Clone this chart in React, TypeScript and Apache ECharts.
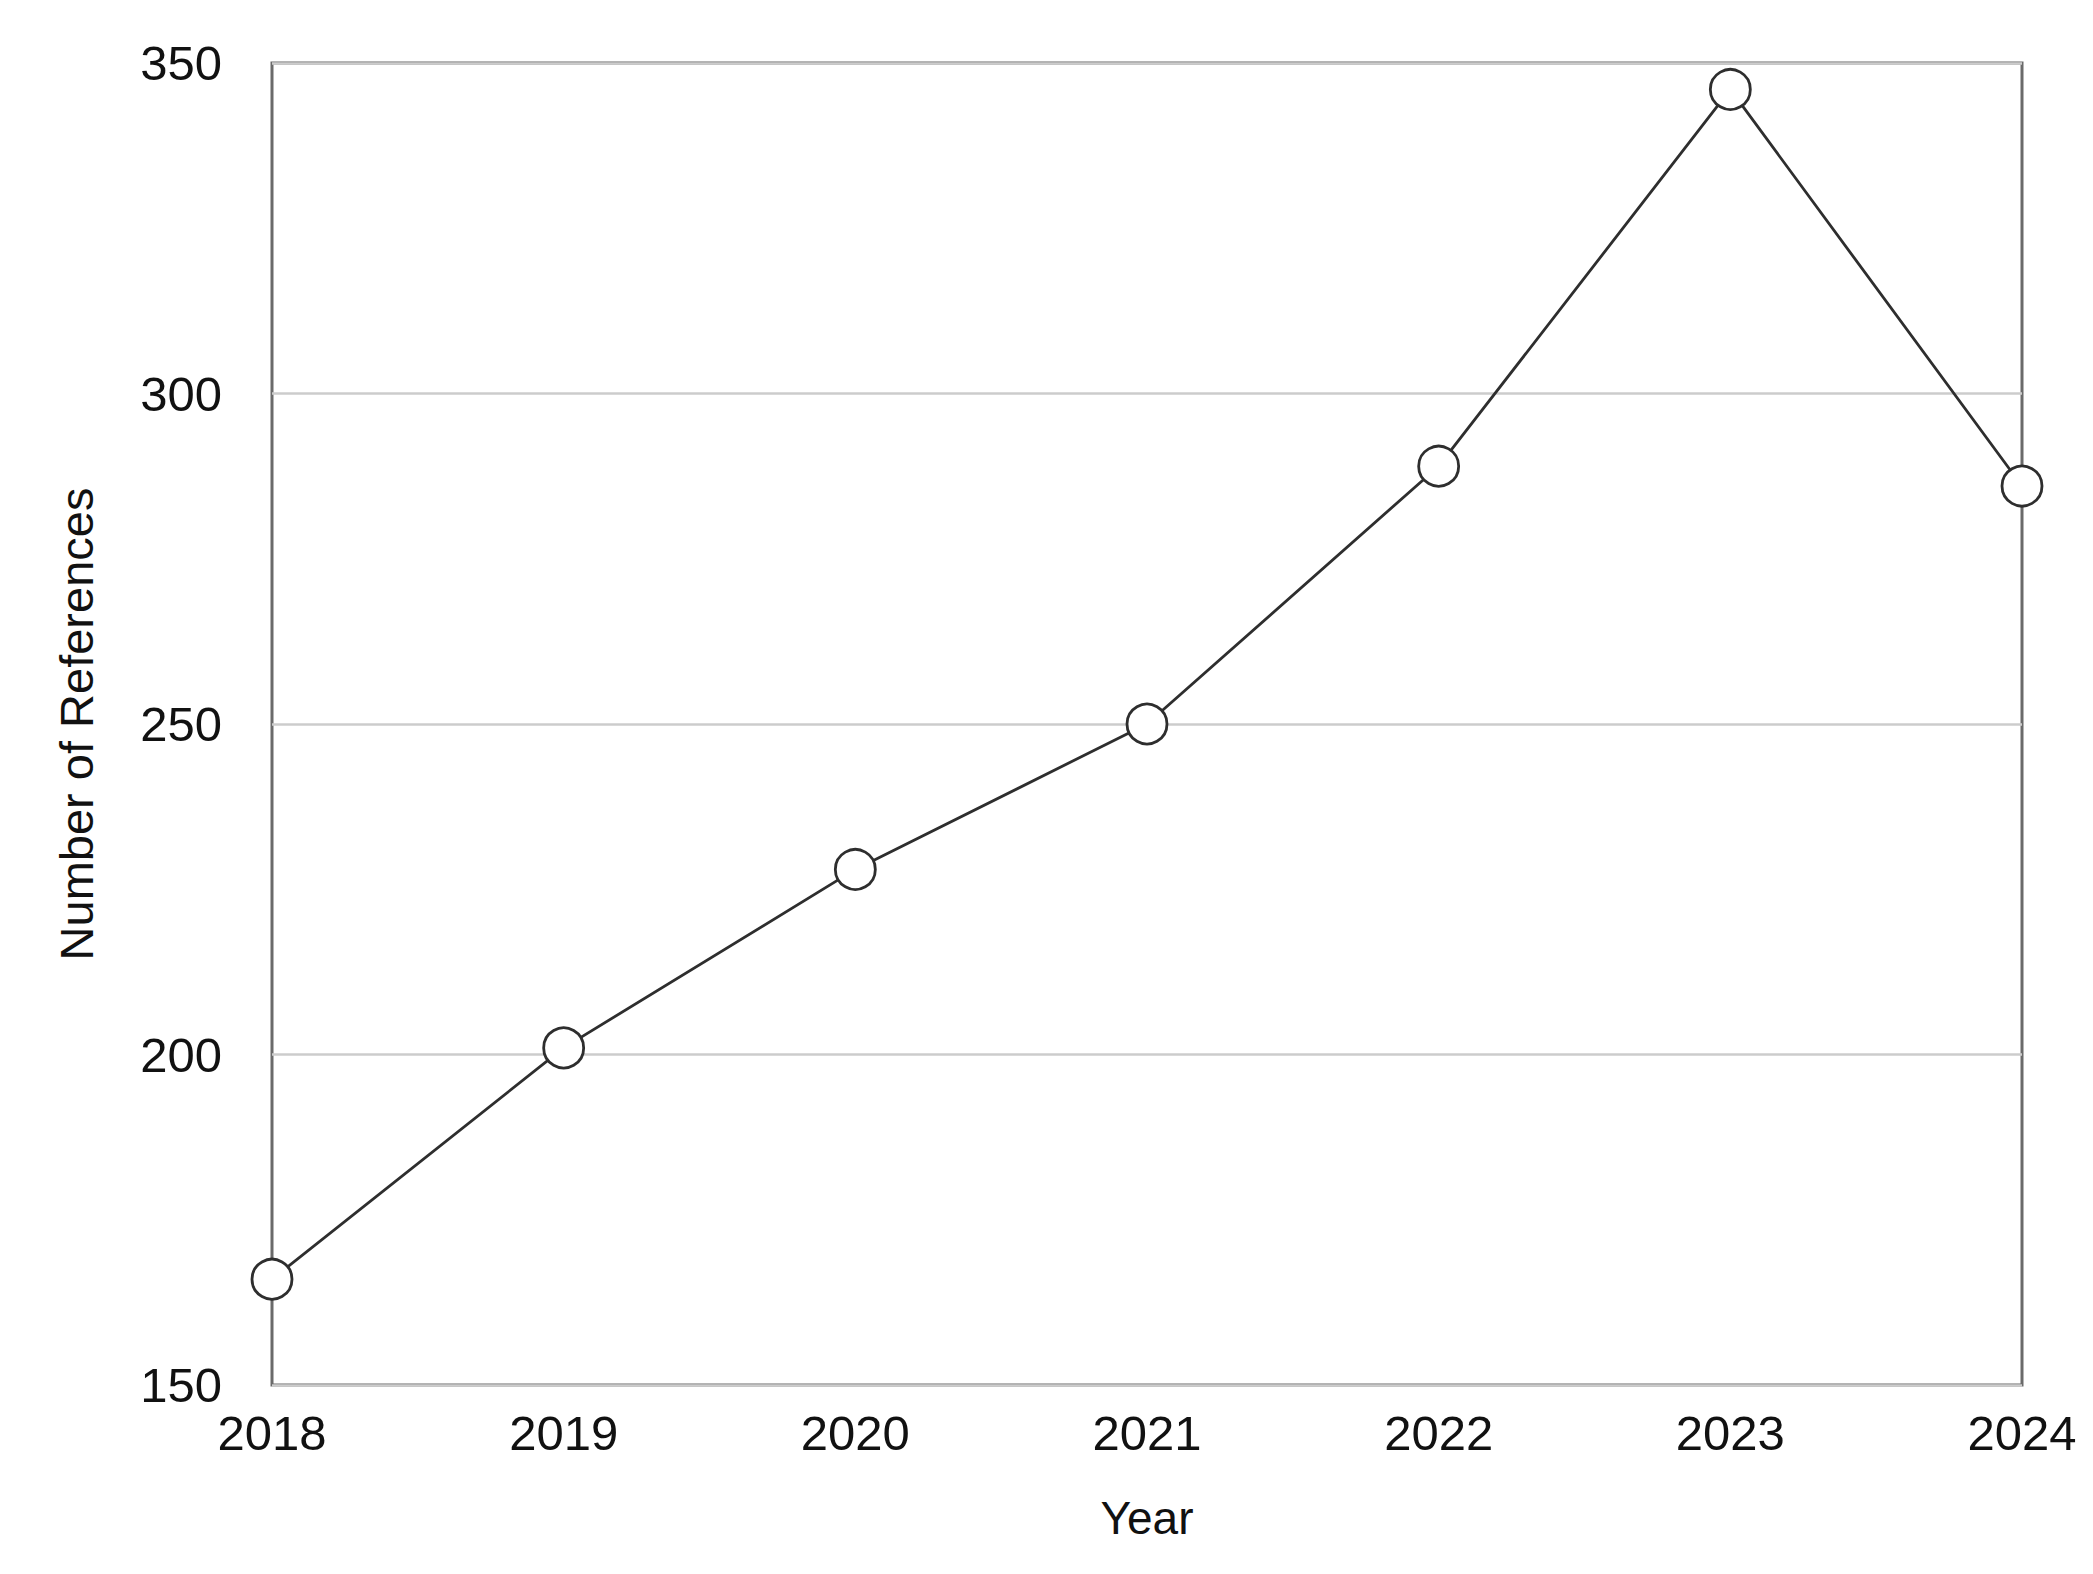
import React, { useEffect, useRef } from "react";
import * as echarts from "echarts";

const years = ["2018", "2019", "2020", "2021", "2022", "2023", "2024"];
const references = [166, 201, 228, 250, 289, 346, 286];
const yTicks = { min: 150, max: 350, interval: 50 };

export default function App() {
  const ref = useRef<HTMLDivElement>(null);
  useEffect(() => {
    document.body.style.margin = "0";
    const chart = echarts.init(ref.current!, null, { renderer: "svg" });
    const font = "'Liberation Sans', Arial, Helvetica, sans-serif";
    chart.setOption({
      animation: false,
      backgroundColor: "#ffffff",
      grid: {
        left: 272,
        right: 71,
        top: 63,
        bottom: 189,
        show: true,
        borderColor: "#6a6a6a",
        borderWidth: 3,
        backgroundColor: "transparent",
        containLabel: false,
      },
      xAxis: {
        type: "category",
        data: years,
        boundaryGap: false,
        name: "Year",
        nameLocation: "middle",
        nameGap: 110,
        nameTextStyle: { fontFamily: font, fontSize: 46, color: "#111" },
        axisLine: { show: false },
        axisTick: { show: false },
        splitLine: { show: false },
        axisLabel: { fontFamily: font, fontSize: 49, color: "#111", margin: 23 },
      },
      yAxis: {
        type: "value",
        min: yTicks.min,
        max: yTicks.max,
        interval: yTicks.interval,
        name: "Number of References",
        nameLocation: "middle",
        nameGap: 172,
        nameTextStyle: { fontFamily: font, fontSize: 47, color: "#111" },
        axisLine: { show: false },
        axisTick: { show: false },
        splitLine: { show: true, lineStyle: { color: "#cccccc", width: 2.5 } },
        axisLabel: { fontFamily: font, fontSize: 49, color: "#111", margin: 50 },
      },
      series: [
        {
          type: "line",
          data: references,
          symbol: "circle",
          symbolSize: 40,
          clip: false,
          lineStyle: { color: "#2e2e2e", width: 2.8 },
          itemStyle: { color: "#ffffff", borderColor: "#2e2e2e", borderWidth: 2.8 },
          z: 5,
        },
      ],
    });
    return () => chart.dispose();
  }, []);
  return <div ref={ref} style={{ width: 2093, height: 1574 }} />;
}
